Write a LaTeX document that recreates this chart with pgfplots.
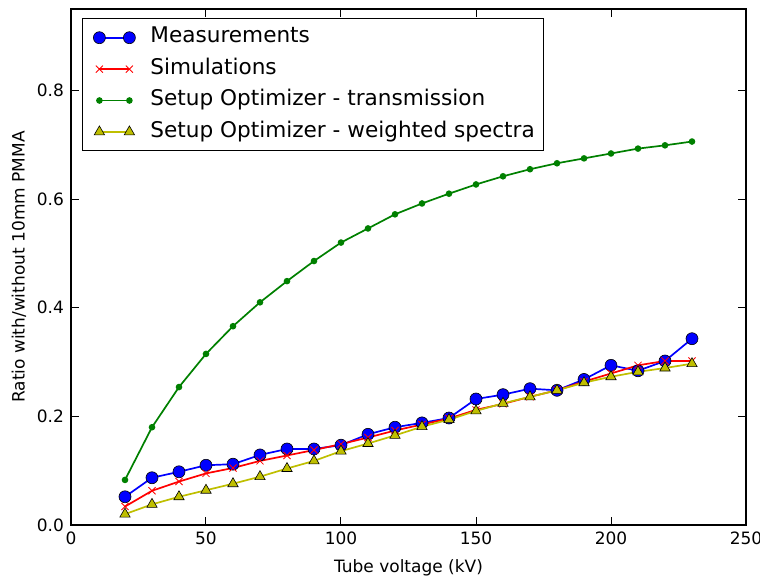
\documentclass[border=0pt]{standalone}
\usepackage{fontspec}
\setmainfont{DejaVu Sans}
\usepackage{pgfplots}
\pgfplotsset{compat=1.18}
\usepackage{pgfplotstable}

\definecolor{mplblue}{rgb}{0,0,1}
\definecolor{mplred}{rgb}{1,0,0}
\definecolor{mplgreen}{rgb}{0,0.5,0}
\definecolor{mplyellow}{rgb}{0.75,0.75,0}

% tube voltage (kV) vs ratio with/without 10mm PMMA
\pgfplotstableread{
kv  meas   sim    trans  weighted
20  0.052  0.034  0.083  0.020
30  0.087  0.063  0.180  0.038
40  0.098  0.080  0.254  0.052
50  0.110  0.095  0.315  0.064
60  0.112  0.105  0.366  0.076
70  0.129  0.118  0.410  0.089
80  0.140  0.128  0.449  0.104
90  0.140  0.138  0.486  0.118
100 0.147  0.149  0.520  0.136
110 0.167  0.161  0.546  0.150
120 0.180  0.174  0.572  0.165
130 0.188  0.185  0.592  0.181
140 0.197  0.196  0.610  0.194
150 0.232  0.212  0.627  0.210
160 0.240  0.223  0.642  0.224
170 0.251  0.236  0.655  0.236
180 0.248  0.248  0.666  0.248
190 0.268  0.264  0.675  0.262
200 0.294  0.279  0.684  0.273
210 0.284  0.294  0.693  0.282
220 0.302  0.302  0.699  0.289
230 0.343  0.302  0.706  0.297
}\datatable

\begin{document}
\begin{tikzpicture}
\begin{scope}[overlay]
\begin{axis}[
  scale only axis,
  width=337.5pt, height=258pt,
  xmin=0, xmax=250, ymin=0, ymax=0.95,
  xtick={0,50,...,250},
  ytick={0,0.2,0.4,0.6,0.8},
  yticklabel style={/pgf/number format/.cd,fixed,fixed zerofill,precision=1},
  /pgf/number format/assume math mode=true,
  tick align=inside,
  major tick length=4pt,
  tick style={black, line width=0.5pt},
  axis line style={line width=0.6pt},
  tick label style={font=\fontsize{8.5}{10}\selectfont},
  label style={font=\fontsize{8.5}{10}\selectfont},
  xlabel={Tube voltage (kV)},
  xlabel style={at={(axis description cs:0.5,-0.0833)}, anchor=center},
  ylabel={Ratio with/without 10mm PMMA},
  ylabel style={at={(axis description cs:-0.0770,0.5)}, anchor=center},
  legend cell align=left,
  legend style={
    at={(0,1)}, anchor=north west, xshift=5.4pt, yshift=-4.6pt,
    draw=black, fill=white, line width=0.6pt,
    font=\fontsize{10.8}{12}\selectfont,
    row sep=5.2pt, column sep=6pt,
    inner xsep=4.5pt, inner ysep=4.2pt,
    nodes={inner xsep=0pt, inner ysep=0pt, text height=7.8pt, text depth=2.7pt}
  },
  legend image code/.code={
    \path[draw=none, fill=none] (-4pt,-3pt) rectangle (19.5pt,3pt);
    \draw[mark repeat=2,mark phase=1] plot coordinates {(0pt,0pt) (7.5pt,0pt) (15pt,0pt)};
  },
]
\addplot[mplblue, line width=0.85pt, mark=*, mark size=3pt, mark options={fill=mplblue, draw=black, line width=0.3pt}]
  table[x=kv, y=meas] {\datatable};
\addlegendentry{Measurements}
\addplot[mplred, line width=0.85pt, mark=x, mark size=2.5pt, mark options={mplred, line width=0.4pt}]
  table[x=kv, y=sim] {\datatable};
\addlegendentry{Simulations}
\addplot[mplgreen, line width=0.85pt, mark=*, mark size=1.2pt, mark options={fill=mplgreen, draw=mplgreen}]
  table[x=kv, y=trans] {\datatable};
\addlegendentry{Setup Optimizer - transmission}
\addplot[mplyellow, line width=0.85pt, mark=triangle*, mark size=3pt, mark options={fill=mplyellow, draw=black, line width=0.3pt}]
  table[x=kv, y=weighted] {\datatable};
\addlegendentry{Setup Optimizer - weighted spectra}
\end{axis}
\end{scope}
\path[use as bounding box] (-35.5pt,-27.5pt) rectangle (344.5pt,262.5pt);
\end{tikzpicture}
\end{document}
